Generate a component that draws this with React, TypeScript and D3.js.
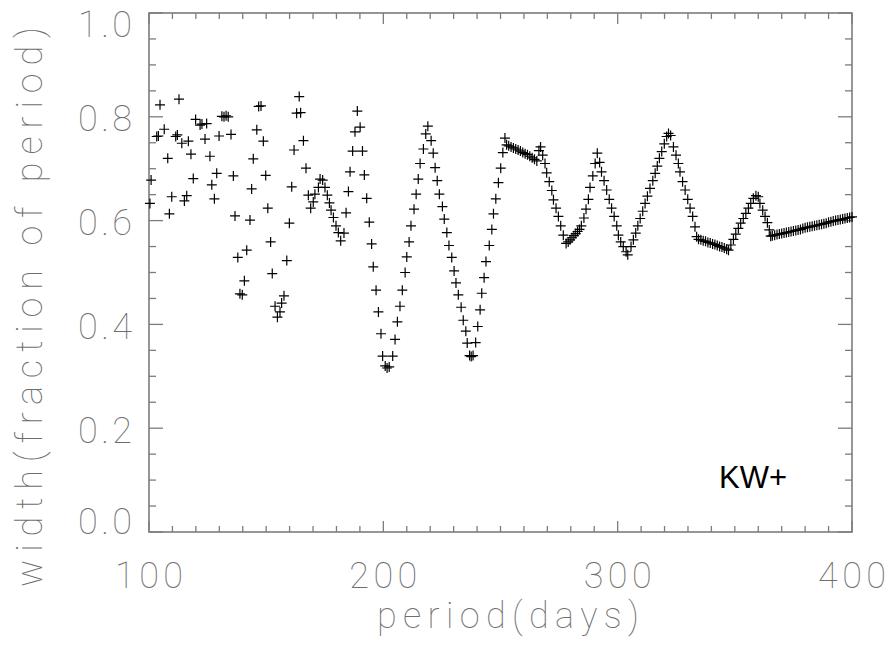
import React from "react";
import * as d3 from "d3";

// Pulse width as a function of trial period, one "+" per sample.
const periodDays: number[] = [
  100.4, 100.9, 103.3, 104.0, 104.7, 106.5, 108.0, 108.7, 109.7, 111.4,
  112.1, 112.8, 114.0, 115.1, 116.1, 116.8, 117.9, 118.9, 119.9, 121.8,
  122.6, 123.9, 124.6, 126.0, 126.8, 127.9, 128.9, 129.9, 131.1, 132.0,
  132.9, 133.8, 135.0, 136.0, 136.7, 137.9, 138.8, 139.8, 140.7, 141.7,
  143.1, 143.8, 144.5, 146.0, 146.8, 147.8, 148.8, 149.8, 150.7, 151.9,
  152.6, 153.8, 154.8, 155.9, 156.6, 157.6, 158.8, 159.9, 160.9, 161.9,
  163.0, 164.1, 164.7, 165.9, 167.0, 168.0, 169.0, 170.1, 170.8, 172.3,
  173.0, 174.1, 175.1, 176.1, 177.0, 177.7, 178.7, 179.8, 180.8, 181.8,
  183.2, 184.1, 185.1, 185.8, 186.9, 187.9, 188.9, 190.1, 191.1, 191.9,
  192.9, 194.0, 195.0, 195.7, 196.9, 197.9, 199.0, 199.7, 200.8, 201.6,
  202.5, 204.0, 205.0, 206.0, 207.1, 208.1, 209.3, 210.0, 211.0, 211.8,
  213.1, 214.0, 214.9, 215.7, 217.1, 218.1, 219.0, 220.4, 221.3, 222.1,
  223.0, 223.9, 225.2, 226.0, 227.1, 228.0, 229.2, 230.2, 231.0, 232.0,
  233.2, 234.1, 235.2, 235.8, 236.8, 237.5, 238.3, 239.4, 240.3, 241.3,
  242.0, 243.0, 243.8, 245.2, 246.3, 247.0, 248.0, 249.1, 250.1, 251.0,
  251.9, 252.6, 253.5, 254.5, 255.5, 256.5, 257.5, 258.5, 259.5, 260.5,
  261.5, 262.5, 263.5, 264.5, 265.5, 266.4, 267.1, 268.0, 269.0, 269.7,
  270.8, 271.9, 272.6, 273.7, 274.7, 275.7, 276.8, 278.0, 278.9, 279.7,
  280.5, 281.3, 282.1, 282.9, 283.7, 284.5, 285.6, 286.5, 287.5, 288.2,
  289.4, 290.4, 291.3, 292.3, 293.1, 294.2, 295.3, 296.4, 297.4, 298.5,
  299.6, 300.3, 301.3, 302.4, 303.6, 304.3, 305.7, 306.7, 307.7, 308.6,
  309.6, 310.7, 311.7, 312.7, 313.8, 315.0, 316.0, 316.9, 317.8, 318.8,
  319.9, 320.9, 321.7, 322.6, 323.8, 324.9, 325.9, 326.6, 327.7, 328.8,
  329.9, 330.9, 332.0, 333.0, 333.7, 334.5, 335.5, 336.5, 337.5, 338.5,
  339.5, 340.5, 341.5, 342.5, 343.5, 344.5, 345.5, 346.5, 347.3, 348.3,
  349.4, 350.4, 351.5, 352.5, 353.6, 354.7, 355.8, 356.8, 357.9, 359.0,
  360.0, 360.7, 361.9, 362.9, 363.9, 364.7, 365.3, 366, 367, 368,
  369, 370, 371, 372, 373, 374, 375, 376, 377, 378,
  379, 380, 381, 382, 383, 384, 385, 386, 387, 388,
  389, 390, 391, 392, 393, 394, 395, 396, 397, 398,
  399, 400,
];

const widthFraction: number[] = [
  0.633, 0.678, 0.762, 0.763, 0.823, 0.776, 0.720, 0.613, 0.646, 0.762,
  0.765, 0.834, 0.749, 0.638, 0.648, 0.753, 0.728, 0.681, 0.795, 0.784,
  0.786, 0.757, 0.787, 0.724, 0.669, 0.642, 0.691, 0.763, 0.801, 0.800,
  0.802, 0.800, 0.766, 0.686, 0.609, 0.529, 0.459, 0.457, 0.484, 0.543,
  0.601, 0.661, 0.719, 0.775, 0.820, 0.821, 0.753, 0.687, 0.624, 0.559,
  0.498, 0.435, 0.414, 0.424, 0.441, 0.455, 0.523, 0.595, 0.665, 0.736,
  0.807, 0.839, 0.808, 0.754, 0.701, 0.649, 0.624, 0.636, 0.651, 0.664,
  0.680, 0.678, 0.664, 0.649, 0.634, 0.620, 0.606, 0.590, 0.577, 0.561,
  0.576, 0.615, 0.656, 0.694, 0.734, 0.771, 0.811, 0.780, 0.734, 0.688,
  0.643, 0.597, 0.555, 0.511, 0.466, 0.424, 0.382, 0.339, 0.320, 0.316,
  0.318, 0.339, 0.371, 0.405, 0.435, 0.466, 0.500, 0.530, 0.559, 0.590,
  0.622, 0.651, 0.680, 0.710, 0.738, 0.767, 0.782, 0.754, 0.730, 0.702,
  0.677, 0.651, 0.627, 0.603, 0.577, 0.552, 0.529, 0.503, 0.480, 0.457,
  0.433, 0.408, 0.387, 0.364, 0.340, 0.338, 0.340, 0.365, 0.396, 0.428,
  0.460, 0.490, 0.521, 0.552, 0.583, 0.613, 0.642, 0.673, 0.701, 0.731,
  0.759, 0.746, 0.744, 0.742, 0.740, 0.738, 0.736, 0.734, 0.731, 0.729,
  0.727, 0.724, 0.721, 0.718, 0.715, 0.735, 0.742, 0.726, 0.710, 0.692,
  0.675, 0.658, 0.640, 0.624, 0.608, 0.590, 0.572, 0.556, 0.559, 0.563,
  0.567, 0.571, 0.575, 0.579, 0.583, 0.590, 0.605, 0.622, 0.641, 0.664,
  0.686, 0.710, 0.730, 0.712, 0.694, 0.677, 0.659, 0.641, 0.624, 0.608,
  0.590, 0.572, 0.559, 0.550, 0.540, 0.534, 0.550, 0.563, 0.576, 0.590,
  0.604, 0.618, 0.633, 0.647, 0.662, 0.677, 0.691, 0.705, 0.720, 0.733,
  0.748, 0.762, 0.768, 0.764, 0.742, 0.726, 0.710, 0.694, 0.675, 0.659,
  0.641, 0.624, 0.608, 0.588, 0.569, 0.564, 0.563, 0.561, 0.560, 0.558,
  0.557, 0.555, 0.554, 0.552, 0.550, 0.549, 0.547, 0.545, 0.543, 0.553,
  0.564, 0.574, 0.585, 0.595, 0.604, 0.614, 0.624, 0.633, 0.643, 0.648,
  0.646, 0.633, 0.620, 0.608, 0.596, 0.582, 0.570, 0.571, 0.572, 0.573,
  0.574, 0.575, 0.576, 0.577, 0.578, 0.579, 0.580, 0.581, 0.582, 0.583,
  0.585, 0.586, 0.587, 0.588, 0.589, 0.590, 0.591, 0.592, 0.593, 0.594,
  0.595, 0.597, 0.598, 0.599, 0.600, 0.601, 0.602, 0.603, 0.604, 0.605,
  0.606, 0.607,
];

const xMajorTicks = [100, 200, 300, 400];
const xTickLabels = ["100", "200", "300", "400"];
const yMajorTicks = [0, 0.2, 0.4, 0.6, 0.8, 1.0];
const yTickLabels = ["0.0", "0.2", "0.4", "0.6", "0.8", "1.0"];

const W = 890;
const H = 647;
const LEFT = 149;
const RIGHT = 852;
const TOP = 13;
const BOTTOM = 532;

const AXIS = "#7c7c7c";
const LABEL = "#6e6e6e";
const LIGHT_FONT = "Roboto, 'Open Sans', 'DejaVu Sans', sans-serif";

export default function App() {
  const x = d3.scaleLinear().domain([100, 400]).range([LEFT, RIGHT]);
  const y = d3.scaleLinear().domain([0, 1]).range([BOTTOM, TOP]);

  const xMinor = d3.range(110, 400, 10).filter((v) => v % 100 !== 0);
  const yMinor = d3
    .range(0.05, 1.0, 0.05)
    .map((v) => +v.toFixed(2))
    .filter((v) => Math.abs(v / 0.2 - Math.round(v / 0.2)) > 1e-6);

  const pts = periodDays.map((p, i) => [x(p), y(widthFraction[i])]);
  const arm = 5;

  // keep end labels inside the axis span
  const yLabelCenter = (v: number) =>
    Math.min(BOTTOM - 10, Math.max(TOP + 12, y(v) + 2.5));

  return (
    <svg width={W} height={H} style={{ display: "block", position: "absolute", left: 0, top: 0, background: "#fff" }}>
      <rect x={0} y={0} width={W} height={H} fill="#fff" />

      {/* frame */}
      <rect x={LEFT} y={TOP} width={RIGHT - LEFT} height={BOTTOM - TOP} fill="none" stroke={AXIS} strokeWidth={1.6} />

      {/* ticks on all four sides, pointing inward */}
      <g stroke={AXIS} strokeWidth={1.3}>
        {xMajorTicks.map((t) => (
          <g key={"xM" + t}>
            <line x1={x(t)} x2={x(t)} y1={BOTTOM} y2={BOTTOM - 11} />
            <line x1={x(t)} x2={x(t)} y1={TOP} y2={TOP + 11} />
          </g>
        ))}
        {xMinor.map((t) => (
          <g key={"xm" + t}>
            <line x1={x(t)} x2={x(t)} y1={BOTTOM} y2={BOTTOM - 6} />
            <line x1={x(t)} x2={x(t)} y1={TOP} y2={TOP + 6} />
          </g>
        ))}
        {yMajorTicks.map((t) => (
          <g key={"yM" + t}>
            <line x1={LEFT} x2={LEFT + 14} y1={y(t)} y2={y(t)} />
            <line x1={RIGHT} x2={RIGHT - 14} y1={y(t)} y2={y(t)} />
          </g>
        ))}
        {yMinor.map((t) => (
          <g key={"ym" + t}>
            <line x1={LEFT} x2={LEFT + 7} y1={y(t)} y2={y(t)} />
            <line x1={RIGHT} x2={RIGHT - 7} y1={y(t)} y2={y(t)} />
          </g>
        ))}
      </g>

      {/* tick labels */}
      <g fill={LABEL} fontFamily={LIGHT_FONT} fontWeight={100} fontSize={36}>
        {xMajorTicks.map((t, i) => (
          <text key={"xl" + t} x={x(t)} y={588} textAnchor="middle" textLength={68} lengthAdjust="spacing">
            {xTickLabels[i]}
          </text>
        ))}
        {yMajorTicks.map((t, i) => (
          <text
            key={"yl" + t}
            x={78}
            y={yLabelCenter(t)}
            dominantBaseline="central"
            textLength={54}
            lengthAdjust="spacing"
          >
            {yTickLabels[i]}
          </text>
        ))}
      </g>

      {/* axis titles */}
      <text
        x={508}
        y={628}
        textAnchor="middle"
        fill={LABEL}
        fontFamily={LIGHT_FONT}
        fontWeight={100}
        fontSize={36}
        textLength={262}
        lengthAdjust="spacing"
      >
        period(days)
      </text>
      <text
        transform={`translate(42,307) rotate(-90)`}
        textAnchor="middle"
        fill={LABEL}
        fontFamily={LIGHT_FONT}
        fontWeight={100}
        fontSize={36}
        textLength={560}
        lengthAdjust="spacing"
      >
        width(fraction of period)
      </text>

      {/* samples */}
      <g stroke="#000" strokeWidth={1.2}>
        {pts.map(([px, py], i) => (
          <path key={i} d={`M${px - arm},${py}H${px + arm}M${px},${py - arm}V${py + arm}`} />
        ))}
      </g>

      <text x={719} y={488} fill="#000" fontFamily="'Liberation Sans', Arial, sans-serif" fontSize={31}>
        KW+
      </text>
    </svg>
  );
}
